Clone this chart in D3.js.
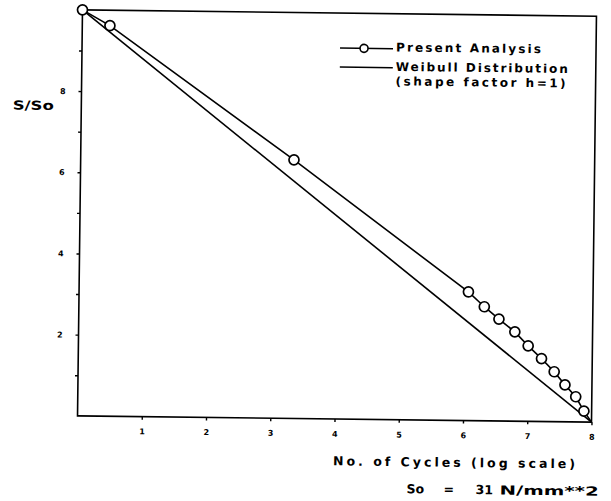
<!DOCTYPE html>
<html>
<head>
<meta charset="utf-8">
<script src="https://cdn.jsdelivr.net/npm/d3@7"></script>
<style>
  html, body { margin: 0; padding: 0; background: #fff; }
  svg { display: block; }
  text { font-family: "DejaVu Sans", "Liberation Sans", sans-serif; font-weight: bold; fill: #000; }
</style>
</head>
<body>
<svg id="chart" width="611" height="501"></svg>
<script>
// ---- data ----
const presentCycles = [0, 0.43, 3.32, 6.06, 6.31, 6.54, 6.79, 7.00, 7.21, 7.41, 7.58, 7.75, 7.88, 8.0];
const presentRatio  = [1.0, 0.962, 0.637, 0.317, 0.281, 0.251, 0.220, 0.186, 0.155, 0.123, 0.091, 0.062, 0.027, 0.0];
const weibullCycles = [0, 8];
const weibullRatio  = [1.0, 0.0];
const xTickValues = [1, 2, 3, 4, 5, 6, 7, 8];
const xTickLabels = ["1", "2", "3", "4", "5", "6", "7", "8"];
const yTickValues = [0.1, 0.2, 0.3, 0.4, 0.5, 0.6, 0.7, 0.8, 0.9];
const yTickLabels = ["", "2", "", "4", "", "6", "", "8", ""];
const legendLabels = ["Present Analysis", "Weibull Distribution", "(shape factor h=1)"];

// ---- layout ----
const svg = d3.select("#chart");
const root = svg.append("g").attr("transform", "rotate(0.7, 336, 215)");
const x = d3.scaleLinear().domain([0, 8]).range([80, 594]);
const y = d3.scaleLinear().domain([0, 1]).range([419, 13]);

// frame
root.append("rect")
  .attr("x", x(0)).attr("y", y(1))
  .attr("width", x(8) - x(0)).attr("height", y(0) - y(1))
  .attr("fill", "none").attr("stroke", "#000").attr("stroke-width", 1.6);

// axes
const xAxis = d3.axisBottom(x).tickValues(xTickValues)
  .tickFormat((d, i) => xTickLabels[i]).tickSize(3).tickPadding(9);
const gx = root.append("g").attr("transform", `translate(0,${y(0)})`).call(xAxis);
gx.select(".domain").remove();
gx.selectAll(".tick line").attr("stroke", "#000").attr("stroke-width", 1.4);
gx.selectAll(".tick text").attr("font-size", 8).attr("font-family", "DejaVu Sans").attr("font-weight", "bold");

const yAxis = d3.axisLeft(y).tickValues(yTickValues)
  .tickFormat((d, i) => yTickLabels[i]).tickSize(3).tickPadding(13);
const gy = root.append("g").attr("transform", `translate(${x(0)},0)`).call(yAxis);
gy.select(".domain").remove();
gy.selectAll(".tick line").attr("stroke", "#000").attr("stroke-width", 1.4);
gy.selectAll(".tick text").attr("font-size", 8).attr("font-family", "DejaVu Sans").attr("font-weight", "bold");

// lines
const line = d3.line().x(d => x(d[0])).y(d => y(d[1]));
const presentData = presentCycles.map((c, i) => [c, presentRatio[i]]);
const weibullData = weibullCycles.map((c, i) => [c, weibullRatio[i]]);

root.append("path").datum(weibullData).attr("d", line)
  .attr("fill", "none").attr("stroke", "#000").attr("stroke-width", 1.6);
root.append("path").datum(presentData).attr("d", line)
  .attr("fill", "none").attr("stroke", "#000").attr("stroke-width", 1.6);
root.selectAll("circle.pt").data(presentData.filter(d => d[1] > 0))
  .enter().append("circle").attr("class", "pt")
  .attr("cx", d => x(d[0])).attr("cy", d => y(d[1])).attr("r", 5)
  .attr("fill", "#fff").attr("stroke", "#000").attr("stroke-width", 1.7);

// legend
const lg = root.append("g");
lg.append("line").attr("x1", 338).attr("x2", 391).attr("y1", 48).attr("y2", 48)
  .attr("stroke", "#000").attr("stroke-width", 1.5);
lg.append("circle").attr("cx", 362).attr("cy", 48).attr("r", 4)
  .attr("fill", "#fff").attr("stroke", "#000").attr("stroke-width", 1.6);
lg.append("line").attr("x1", 338).attr("x2", 391).attr("y1", 67).attr("y2", 67)
  .attr("stroke", "#000").attr("stroke-width", 1.5);
const legendY = [46.5, 66, 80.5];
const legendW = [145, 172, 170];
legendLabels.forEach((t, i) => {
  lg.append("text").attr("x", 394).attr("y", legendY[i]).attr("dy", "0.35em")
    .attr("font-size", 12).attr("textLength", legendW[i]).attr("lengthAdjust", "spacing")
    .text(t);
});

// axis titles
root.append("text").attr("x", 32).attr("y", 109).attr("dy", "0.35em")
  .attr("text-anchor", "middle").attr("font-size", 12.5)
  .attr("textLength", 41).attr("lengthAdjust", "spacingAndGlyphs").text("S/So");
root.append("text").attr("x", 457).attr("y", 461).attr("dy", "0.35em")
  .attr("text-anchor", "middle").attr("font-size", 12.5)
  .attr("textLength", 242).attr("lengthAdjust", "spacing").text("No. of Cycles (log scale)");

// footnote
const foot = [["So", 410, 0], ["=", 447, 0], ["31", 479, 0], ["N/mm**2", 503, 99]];
foot.forEach(([t, fx, w]) => {
  const el = root.append("text").attr("x", fx).attr("y", 488).attr("dy", "0.35em")
    .attr("font-size", 12.5).text(t);
  if (w) el.attr("textLength", w).attr("lengthAdjust", "spacingAndGlyphs");
});
</script>
</body>
</html>
